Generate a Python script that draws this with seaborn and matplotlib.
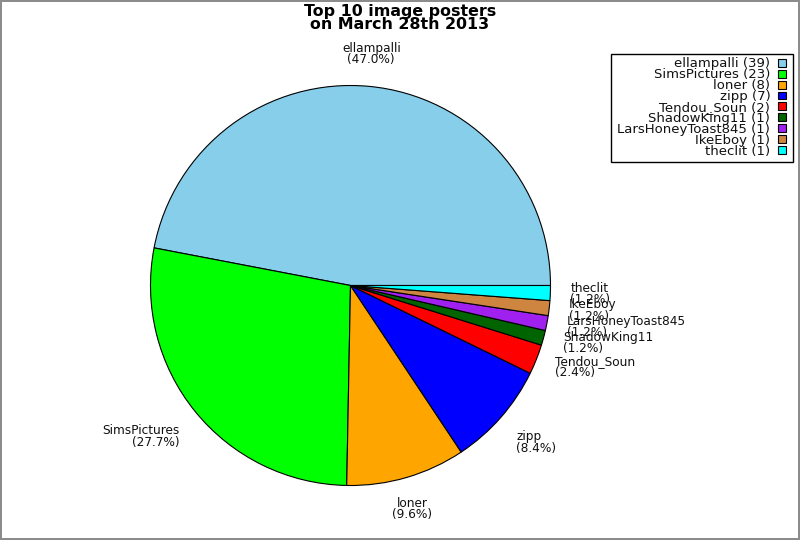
import numpy as np
import matplotlib
matplotlib.use("Agg")
import matplotlib.pyplot as plt
from matplotlib.patches import Rectangle
import seaborn as sns

# data
posters = ["ellampalli", "SimsPictures", "loner", "zipp", "Tendou_Soun",
           "ShadowKing11", "LarsHoneyToast845", "IkeEboy", "theclit"]
counts = [39, 23, 8, 7, 2, 1, 1, 1, 1]
slice_colors = ["#87CEEB", "#00FF00", "#FFA500", "#0000FF", "#FF0000",
                "#006400", "#A020F0", "#CD853F", "#00FFFF"]
title = "Top 10 image posters\non March 28th 2013"

sns.set_theme(style="white")
plt.rcParams['font.family'] = ['DejaVu Sans']

W, H = 800, 540
fig = plt.figure(figsize=(W / 100, H / 100), dpi=100)
fig.patch.set_facecolor("white")
fig.patch.set_edgecolor("#8c8c8c")
fig.patch.set_linewidth(1.5)

# pie centre ~ (350, 285) px, radius ~ 200 px
cx, cy, r = 350.5, 285.5, 200
ax = fig.add_axes([(cx - r) / W, (H - cy - r) / H, 2 * r / W, 2 * r / H])

total = sum(counts)
labels = [f"{p}\n({c / total * 100:.1f}%)" for p, c in zip(posters, counts)]
palette = sns.color_palette(slice_colors)

wedges, texts = ax.pie(counts, labels=labels, colors=palette, startangle=0,
                       counterclock=True, labeldistance=1.1,
                       wedgeprops=dict(edgecolor="black", linewidth=0.8),
                       textprops=dict(fontsize=8.7, color="#111111",
                                      linespacing=0.85))
ax.set_xlim(-1, 1)
ax.set_ylim(-1, 1)

# label alignment like the original: centred near top/bottom, else left/right
for w, t in zip(wedges, texts):
    ang = np.deg2rad((w.theta1 + w.theta2) / 2)
    c, s = np.cos(ang), np.sin(ang)
    if abs(c) < 0.3:
        ha = "center"
    else:
        ha = "left" if c > 0 else "right"
    if abs(s) < 0.5:
        va = "center"
    else:
        va = "bottom" if s > 0 else "top"
    t.set_ha(ha)
    t.set_va(va)
    t.set_multialignment(ha)

fig.text(0.5, 1 - 4 / H, title, ha="center", va="top", fontsize=11.4,
         fontweight="bold", linespacing=0.85, color="black")

# legend: text right-aligned, squares on the right, plain black frame
leg_labels = [f"{p} ({c})" for p, c in zip(posters, counts)]
leg = fig.legend(wedges, leg_labels, loc="upper right",
                 bbox_to_anchor=(785.5 / W, 1 - 57.5 / H),
                 bbox_transform=fig.transFigure, borderaxespad=0,
                 markerfirst=False, fontsize=9.5, labelspacing=-0.16,
                 handlelength=0.55, handleheight=0.55, handletextpad=0.6,
                 borderpad=0, frameon=False)
for h in leg.legend_handles:
    h.set_edgecolor("black")
    h.set_linewidth(0.8)
for t in leg.get_texts():
    t.set_color("#111111")

fig.patches.append(Rectangle((610.5 / W, 1 - 161.5 / H), 182.5 / W, 107.5 / H,
                             transform=fig.transFigure, fill=False,
                             edgecolor="black", linewidth=1.0, zorder=5))

fig.savefig("out.png", dpi=100, facecolor=fig.get_facecolor(),
            edgecolor=fig.get_edgecolor())
